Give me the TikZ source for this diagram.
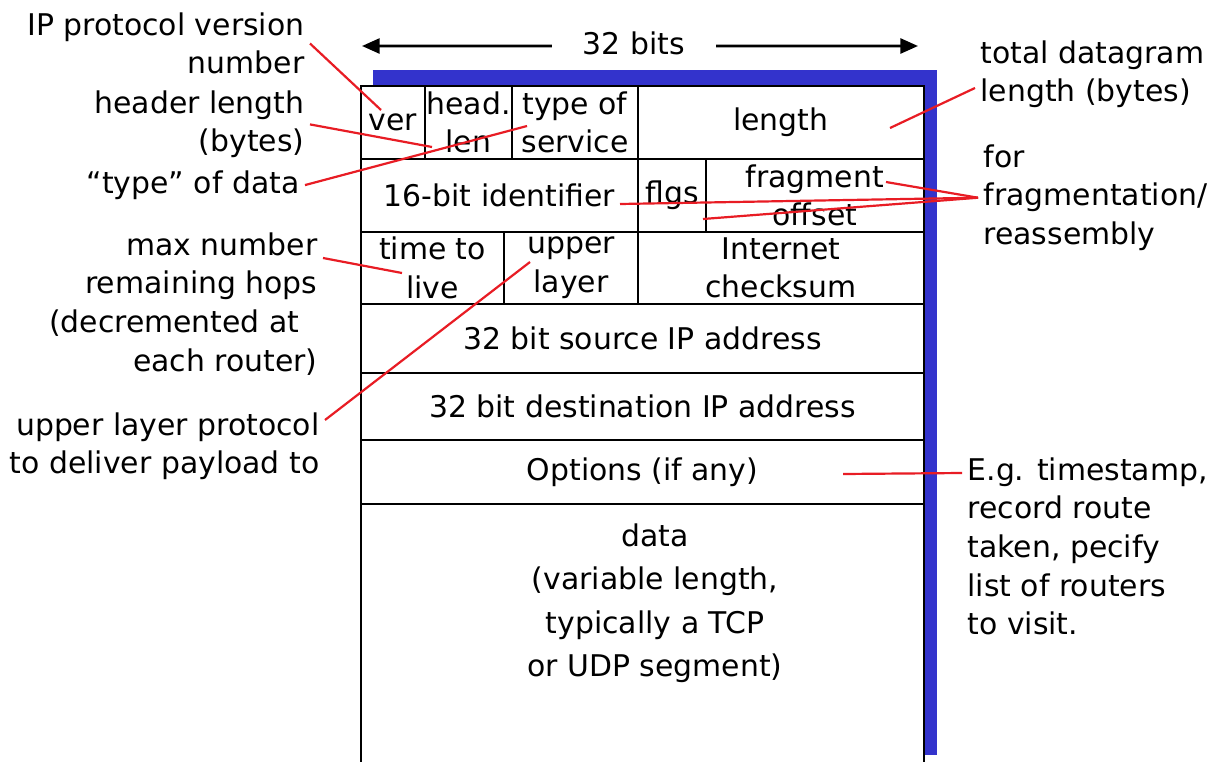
\documentclass[tikz,border=0pt]{standalone}
\usepackage{fontspec}
\setmainfont{DejaVu Sans}
\usepackage{tikz}
\usetikzlibrary{positioning,arrows.meta}
\definecolor{hdrblue}{RGB}{51,51,204}
\definecolor{callred}{RGB}{232,28,36}
\tikzset{
  cell/.style={draw, line width=1pt, inner sep=0pt, outer sep=0pt, align=center, minimum height=1.46cm},
  lbl/.style={inner sep=3pt, align=right, anchor=north east},
  rlbl/.style={inner sep=3pt, align=left, anchor=north west},
  callout/.style={draw=callred, line width=1.25pt},
  span/.style={line width=1.5pt, -{Triangle[length=10pt,width=8.5pt]}},
}

\begin{document}
\begin{tikzpicture}[x=0.02cm, y=-0.02cm, font=\fontsize{17}{22}\selectfont, node distance=0pt]
  \path[use as bounding box, fill=white] (0,0) rectangle (1227,761);
  % shadow behind the header
  \fill[hdrblue] (373,70) rectangle (937,755);
  \fill[white] (361,86) rectangle (924,775);

  % 32 bit width
  \node (bits) at (634,43) {32 bits};
  \coordinate (bitsL) at (362,46);
  \coordinate (bitsR) at (918,46);
  \draw[span] ([xshift=-0.5cm,yshift=-0.06cm]bits.west) -- (bitsL);
  \draw[span] ([xshift=0.5cm,yshift=-0.06cm]bits.east) -- (bitsR);

  % header fields
  \node[cell, minimum width=1.28cm, anchor=north west] (ver) at (361,86) {ver};
  \node[cell, minimum width=1.74cm, right=of ver] (hlen) {head.\\len};
  \node[cell, minimum width=2.52cm, right=of hlen] (tos) {type of\\service};
  \node[cell, minimum width=5.72cm, right=of tos] (len) {length};
  \node[cell, minimum width=5.54cm, below=of ver.south west, anchor=north west] (ident) {16-bit identifier};
  \node[cell, minimum width=1.36cm, right=of ident] (flgs) {flgs};
  \node[cell, minimum width=4.36cm, right=of flgs] (frag) {fragment\\offset};
  \node[cell, minimum width=2.86cm, minimum height=1.44cm, below=of ident.south west, anchor=north west] (ttl) {time to\\live};
  \node[cell, minimum width=2.68cm, minimum height=1.44cm, right=of ttl] (proto) {upper\\layer};
  \node[cell, minimum width=5.72cm, minimum height=1.44cm, right=of proto] (cksum) {Internet\\checksum};
  \node[cell, minimum width=11.26cm, minimum height=1.38cm, below=of ttl.south west, anchor=north west] (src) {32 bit source IP address};
  \node[cell, minimum width=11.26cm, minimum height=1.34cm, below=of src.south west, anchor=north west] (dst) {32 bit destination IP address};
  \node[cell, minimum width=11.26cm, minimum height=1.28cm, below=of dst.south west, anchor=north west] (opts) {Options (if any)};

  % payload, open at the bottom
  \coordinate (tblbottom) at (0,775);
  \draw[line width=1pt] (opts.south west) -- (opts.south west |- tblbottom);
  \draw[line width=1pt] (opts.south east) -- (opts.south east |- tblbottom);
  \node[align=center, anchor=north, font=\fontsize{17}{24.5}\selectfont] (data) at (655,518)
    {data\\(variable length,\\typically a TCP\\or UDP segment)};

  % side notes
  \node[lbl] (lblver) at (310,7) {IP protocol version\\number};
  \node[lbl] (lblhdr) at (310,85) {header length\\(bytes)};
  \node[lbl] (lbltype) at (305,165) {“type” of data};
  \node[lbl] (lblhops) at (323,227) {max number\\remaining hops\\(decremented at\hspace{0.6em}\mbox{}\\each router)};
  \node[lbl] (lblproto) at (325,407) {upper layer protocol\\to deliver payload to};
  \node[rlbl] (lbltotal) at (975,35) {total datagram\\length (bytes)};
  \node[rlbl] (lblfrag) at (978,139) {for\\fragmentation/\\reassembly};
  \node[rlbl] (lbleg) at (962,452) {E.g. timestamp,\\record route\\taken, pecify\\list of routers\\to visit.};

  % callout ends inside the header
  \coordinate (verpt) at (381,110);
  \coordinate (hlenpt) at (432,147);
  \coordinate (tospt) at (527,126);
  \coordinate (lenpt) at (890,128);
  \coordinate (fragpt) at (886,182);
  \coordinate (identpt) at (620,204);
  \coordinate (offpt) at (703,219);
  \coordinate (ttlpt) at (402,273);
  \coordinate (protopt) at (530,262);
  \coordinate (optspt) at (843,474);

  \draw[callout] (lblver.east) -- (verpt);
  \draw[callout] (lblhdr.east) -- (hlenpt);
  \draw[callout] (lbltype.east) -- (tospt);
  \draw[callout] ([yshift=-0.62cm]lblhops.north east) -- (ttlpt);
  \draw[callout] ([yshift=-0.26cm]lblproto.north east) -- (protopt);
  \draw[callout] ([yshift=-1.06cm]lbltotal.north west) -- (lenpt);
  \draw[callout] (lblfrag.west) -- (fragpt);
  \draw[callout] (lblfrag.west) -- (identpt);
  \draw[callout] (lblfrag.west) -- (offpt);
  \draw[callout] ([yshift=-0.42cm]lbleg.north west) -- (optspt);
\end{tikzpicture}
\end{document}
